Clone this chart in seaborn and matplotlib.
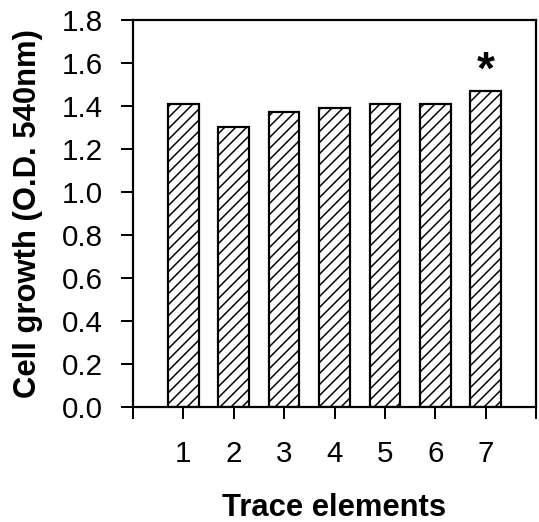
import matplotlib
matplotlib.use("Agg")
import matplotlib.pyplot as plt
import seaborn as sns
import pandas as pd

elements = ["1", "2", "3", "4", "5", "6", "7"]
growth = [1.41, 1.30, 1.37, 1.39, 1.41, 1.41, 1.47]
y_ticks = [0.0, 0.2, 0.4, 0.6, 0.8, 1.0, 1.2, 1.4, 1.6, 1.8]
significant = ["7"]

DPI = 66  # hatch '//' spacing = DPI/6 px


def P(px):
    """pixels -> points"""
    return px * 72.0 / DPI


sns.set_style("white")
plt.rcParams['font.family'] = ['Liberation Sans', 'DejaVu Sans']
plt.rcParams['hatch.linewidth'] = P(1.5)
plt.rcParams['hatch.color'] = 'black'
plt.rcParams['text.color'] = 'black'
plt.rcParams['axes.labelcolor'] = 'black'
plt.rcParams['xtick.color'] = 'black'
plt.rcParams['ytick.color'] = 'black'

df = pd.DataFrame({"element": elements, "growth": growth})

fig = plt.figure(figsize=(539 / DPI, 522 / DPI), dpi=DPI)
ax = fig.add_axes([0.2468, 0.2203, 0.7476, 0.7414])

sns.barplot(data=df, x="element", y="growth", ax=ax, color="white",
            edgecolor="black", linewidth=P(2.2), width=0.61, hatch="//",
            errorbar=None)

ax.set_xlim(-1, 7)
ax.set_ylim(0, 1.8)
ax.set_yticks(y_ticks)
ax.set_yticklabels([f"{v:.1f}" for v in y_ticks], fontsize=P(29.5))
ax.set_xticks(list(range(-1, 8)))
ax.set_xticklabels([""] + elements + [""], fontsize=P(29.5))
ax.tick_params(axis="both", direction="out", length=P(12), width=P(2), color="black",
               labelcolor="black", bottom=True, left=True)
ax.tick_params(axis="x", pad=P(21))
ax.tick_params(axis="y", pad=P(18))

for s in ax.spines.values():
    s.set_visible(True)
    s.set_color("black")
    s.set_linewidth(P(2.2))

ax.set_xlabel("Trace elements", fontsize=P(31), fontweight="bold", labelpad=P(25),
              color="black")
ax.set_ylabel("Cell growth (O.D. 540nm)", fontsize=P(31), fontweight="bold",
              labelpad=P(19), color="black")

for e in significant:
    i = elements.index(e)
    ax.text(i, growth[i] + 0.035, "*", ha="center", va="baseline",
            fontsize=P(46), fontweight="bold", color="black")

fig.savefig("out.png", dpi=DPI)
